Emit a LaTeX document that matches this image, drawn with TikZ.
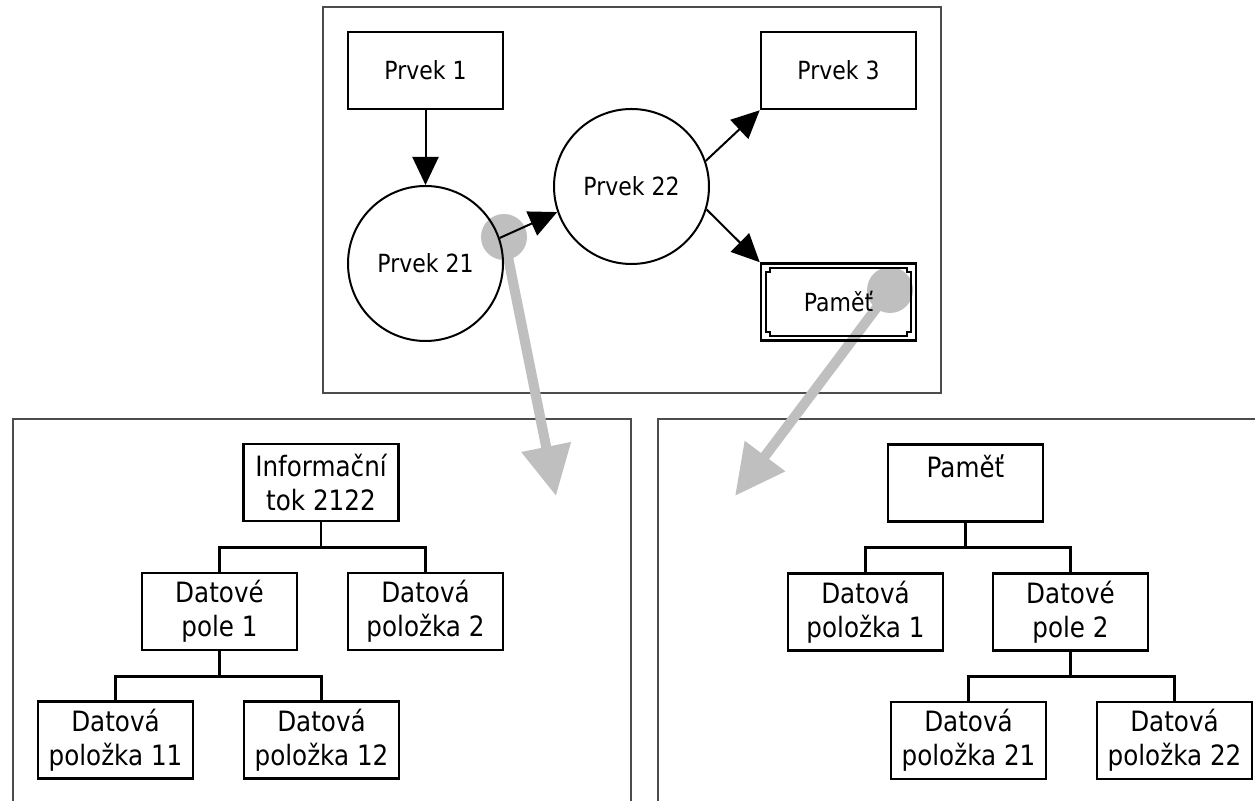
\documentclass[tikz,border=0pt]{standalone}
\usepackage{fontspec}
\setmainfont{DejaVu Sans}[FakeStretch=0.88]
\usetikzlibrary{arrows.meta}

\begin{document}
\begin{tikzpicture}[x=0.5pt,y=-0.5pt]
\tikzstyle{every node}+=[inner sep=0pt]
\tikzstyle{prvek}=[draw,line width=1.3pt,minimum width=77.5pt,minimum height=38.5pt,font=\fontsize{12.5}{15}\selectfont]
\tikzstyle{kruh}=[draw,circle,line width=1pt,minimum size=77.5pt,font=\fontsize{12.5}{15}\selectfont]
\tikzstyle{polozka}=[draw,line width=1.3pt,minimum width=77.5pt,minimum height=38.5pt,align=center,font=\fontsize{14}{17}\selectfont]
\tikzstyle{sipka}=[line width=1pt,-{Triangle[length=14pt,width=13pt]}]
\tikzstyle{sedykruh}=[circle,fill=black!25,minimum size=23pt]
\tikzstyle{sedy}=[black!25,line width=5pt,-{Triangle[length=25pt,width=24pt]}]
\tikzstyle{ramec}=[draw=black!70,line width=0.6pt]
\tikzstyle{vetev}=[line width=1.3pt]
\useasboundingbox (0,0) rectangle (1255,801);
\draw[ramec] (323,7) rectangle (941,393);
\draw[ramec] (13,801) -- (13,419) -- (631,419) -- (631,801);
\draw[ramec] (658,801) -- (658,419) -- (1255,419);
\node[sedykruh] (g1) at (504,237) {};
\node[sedykruh] (g2) at (890,290) {};
\coordinate (t1) at (556,496);
\coordinate (t2) at (735,496);
\draw[sedy] (g1.center) -- (t1);
\draw[sedy] (g2.center) -- (t2);
\node[prvek] (p1) at (425.5,70.5) {Prvek 1};
\node[prvek] (p3) at (838.5,70.5) {Prvek 3};
\node[kruh] (p21) at (425.5,263.5) {Prvek 21};
\node[kruh] (p22) at (631.5,186.5) {Prvek 22};
\node[prvek] (pam) at (838.5,302) {Paměť};
\draw[line width=1pt,shift={(pam.center)}] (-68.5,-34) -- (68.5,-34) -- (68.5,-30) -- (72.5,-30) -- (72.5,30) -- (68.5,30) -- (68.5,34) -- (-68.5,34) -- (-68.5,30) -- (-72.5,30) -- (-72.5,-30) -- (-68.5,-30) -- cycle;
\draw[sipka] (p1.south) -- (p21.north);
\draw[sipka] (p21.19) -- (p22.199);
\draw[sipka] (p22.19) -- (p3.south west);
\draw[sipka] (p22.-17) -- (pam.north west);
\node[polozka] (inf) at (321,482.5) {Informační\\tok 2122};
\node[polozka] (dp1) at (219.5,611.5) {Datové\\pole 1};
\node[polozka] (dpol2) at (425.5,611.5) {Datová\\položka 2};
\node[polozka] (dpol11) at (115.5,740) {Datová\\položka 11};
\node[polozka] (dpol12) at (321.5,740) {Datová\\položka 12};
\draw[vetev] (inf.south) -- ++(0,25) -| (dp1.north);
\draw[vetev] (inf.south) -- ++(0,25) -| (dpol2.north);
\draw[vetev] (dp1.south) -- ++(0,25) -| (dpol11.north);
\draw[vetev] (dp1.south) -- ++(0,25) -| (dpol12.north);
\node[polozka] (pam2) at (965.5,483) {Paměť\\~};
\node[polozka] (dpol1) at (865.5,612) {Datová\\položka 1};
\node[polozka] (dp2) at (1070.5,612) {Datové\\pole 2};
\node[polozka] (dpol21) at (968.5,740.5) {Datová\\položka 21};
\node[polozka] (dpol22) at (1174.5,740.5) {Datová\\položka 22};
\draw[vetev] (pam2.south) -- ++(0,25) -| (dpol1.north);
\draw[vetev] (pam2.south) -- ++(0,25) -| (dp2.north);
\draw[vetev] (dp2.south) -- ++(0,25) -| (dpol21.north);
\draw[vetev] (dp2.south) -- ++(0,25) -| (dpol22.north);
\end{tikzpicture}
\end{document}
